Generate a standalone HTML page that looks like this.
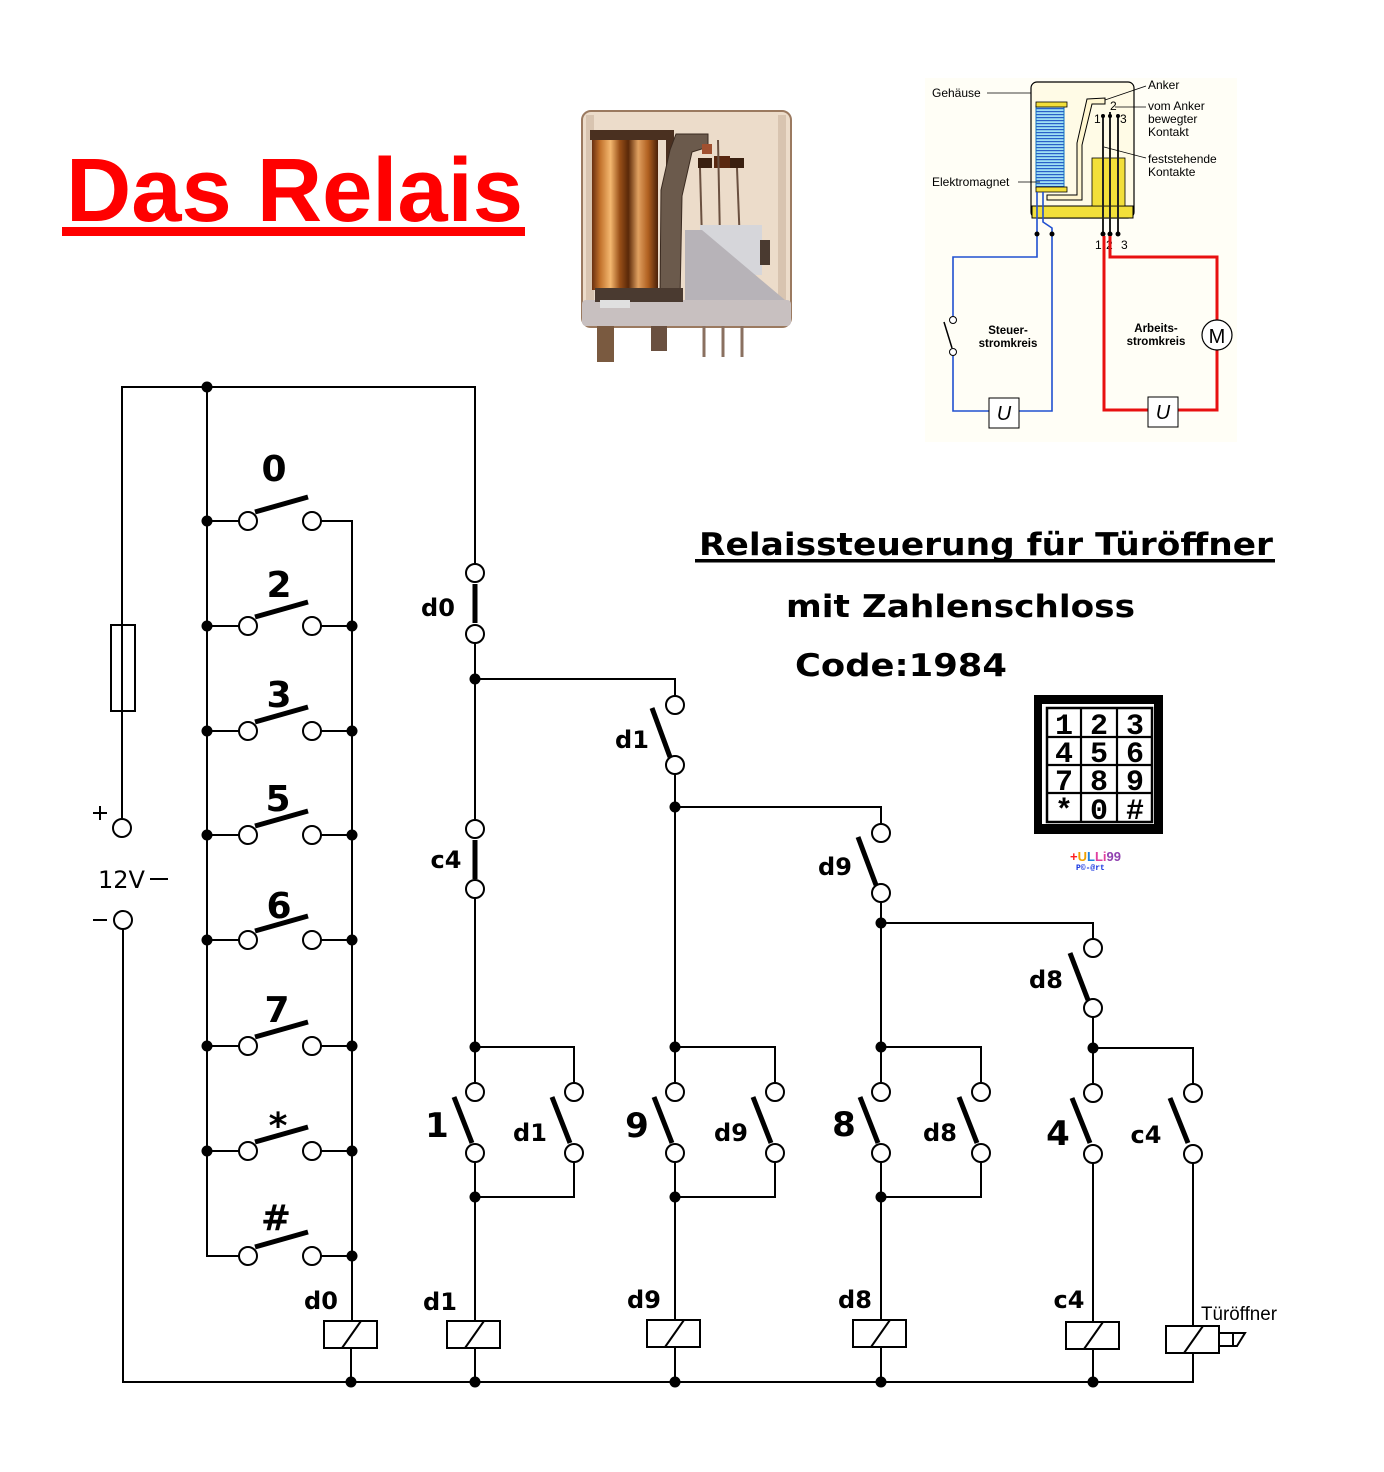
<!DOCTYPE html>
<html><head><meta charset="utf-8"><style>
html,body{margin:0;padding:0;background:#fff;}
svg{display:block;}
</style></head><body>
<svg xmlns="http://www.w3.org/2000/svg" width="1384" height="1472" viewBox="0 0 1384 1472">
<defs>
<linearGradient id="cu" x1="0" y1="0" x2="1" y2="0">
<stop offset="0" stop-color="#6a3010"/><stop offset="0.12" stop-color="#c0702a"/><stop offset="0.28" stop-color="#f4b870"/><stop offset="0.42" stop-color="#9a5018"/><stop offset="0.55" stop-color="#5a2808"/><stop offset="0.7" stop-color="#e0a060"/><stop offset="0.85" stop-color="#b06020"/><stop offset="1" stop-color="#4a2008"/>
</linearGradient>
<pattern id="coilp" width="4" height="3" patternUnits="userSpaceOnUse"><rect width="4" height="3" fill="#9fe0f4"/><rect y="0" width="4" height="1.2" fill="#2a60c8"/></pattern>
</defs>

<!-- Title -->
<text x="66" y="221" font-family="Liberation Sans, sans-serif" font-weight="bold" font-size="90" fill="#ff0000" textLength="457" lengthAdjust="spacingAndGlyphs">Das Relais</text>
<rect x="62" y="227" width="463" height="9" fill="#ff0000"/>

<!-- Relay photo -->
<g>
<rect x="582" y="111" width="209" height="216" rx="9" fill="#ecdcca" stroke="#9b7a60" stroke-width="2"/>
<rect x="586" y="115" width="8" height="205" fill="#d8c4b0"/>
<rect x="778" y="115" width="8" height="205" fill="#d8c4b0"/>
<rect x="592" y="140" width="66" height="150" fill="url(#cu)"/>
<rect x="590" y="130" width="84" height="10" fill="#4a3020"/>
<rect x="666" y="130" width="8" height="40" fill="#4a3020"/>
<polygon points="676,134 708,134 708,147 692,152 682,196 680,300 660,300 661,190 670,150" fill="#6b5a4c" stroke="#3a2a20" stroke-width="1"/>
<rect x="702" y="144" width="10" height="10" fill="#a05030"/>
<rect x="698" y="158" width="14" height="10" fill="#3a2010"/>
<rect x="714" y="156" width="16" height="12" fill="#5a2810"/>
<rect x="730" y="158" width="14" height="10" fill="#3a2010"/>
<line x1="700" y1="168" x2="702" y2="240" stroke="#6a5040" stroke-width="2"/>
<line x1="718" y1="140" x2="720" y2="240" stroke="#6a5040" stroke-width="2"/>
<line x1="737" y1="168" x2="740" y2="245" stroke="#6a5040" stroke-width="2"/>
<rect x="700" y="225" width="62" height="50" fill="#d6d6da"/>
<rect x="760" y="240" width="10" height="25" fill="#4a3a30"/>
<polygon points="685,230 702,230 785,300 785,322 685,322" fill="#b7b3b8"/>
<rect x="582" y="300" width="209" height="26" rx="4" fill="#c8c0c0"/>
<rect x="595" y="288" width="88" height="14" fill="#4a3a30"/>
<rect x="600" y="300" width="30" height="8" fill="#e0e0e0"/>
<rect x="597" y="326" width="17" height="36" fill="#7a5a40"/>
<rect x="651" y="326" width="16" height="25" fill="#6a5040"/>
<line x1="704" y1="326" x2="704" y2="357" stroke="#8a7060" stroke-width="3"/>
<line x1="723" y1="326" x2="723" y2="357" stroke="#8a7060" stroke-width="3"/>
<line x1="742" y1="326" x2="742" y2="357" stroke="#8a7060" stroke-width="3"/>
</g>

<!-- Relay schematic -->
<g font-family="Liberation Sans, sans-serif">
<rect x="925" y="78" width="312" height="364" fill="#fffef6"/>
<rect x="1031" y="82" width="103" height="136" rx="6" fill="#fffbe6" stroke="#000" stroke-width="1.2"/>
<rect x="1032" y="206" width="101" height="12" fill="#f2df3a" stroke="#000" stroke-width="1"/>
<rect x="1036" y="106" width="28" height="82" fill="url(#coilp)" stroke="#1070c0" stroke-width="1"/>
<rect x="1036" y="102" width="31" height="5" fill="#f2df3a" stroke="#000" stroke-width="0.8"/>
<rect x="1036" y="187" width="31" height="5" fill="#f2df3a" stroke="#000" stroke-width="0.8"/>
<rect x="1092" y="158" width="33" height="48" fill="#f2df3a" stroke="#000" stroke-width="0.8"/>
<polygon points="1087,99 1105,98 1105,104 1092,104 1082,145 1082,200 1047,200 1047,195 1077,195 1077,143" fill="#fff6d0" stroke="#000" stroke-width="1"/>
<line x1="1103" y1="116" x2="1103" y2="234" stroke="#222" stroke-width="2"/>
<line x1="1110" y1="112" x2="1110" y2="234" stroke="#222" stroke-width="2"/>
<line x1="1118" y1="116" x2="1118" y2="234" stroke="#222" stroke-width="2"/>
<circle cx="1103" cy="234" r="2.5"/><circle cx="1110" cy="234" r="2.5"/><circle cx="1118" cy="234" r="2.5"/>
<circle cx="1103" cy="116" r="2"/><circle cx="1110" cy="116" r="2"/><circle cx="1118" cy="116" r="2"/>
<text x="1094" y="123" font-size="12">1</text>
<text x="1110" y="110" font-size="12">2</text>
<text x="1120" y="123" font-size="12">3</text>
<text x="1095" y="249" font-size="12">1</text>
<text x="1106" y="249" font-size="12">2</text>
<text x="1121" y="249" font-size="12">3</text>
<g stroke="#000" stroke-width="0.8" fill="none">
<line x1="987" y1="93" x2="1031" y2="93"/>
<line x1="1146" y1="86" x2="1105" y2="100"/>
<line x1="1146" y1="107" x2="1115" y2="107"/>
<line x1="1146" y1="158" x2="1104" y2="147"/>
<line x1="1018" y1="182" x2="1040" y2="182"/>
</g>
<g font-size="12" fill="#000">
<text x="932" y="97">Gehäuse</text>
<text x="1148" y="89">Anker</text>
<text x="1148" y="110">vom Anker</text>
<text x="1148" y="123">bewegter</text>
<text x="1148" y="136">Kontakt</text>
<text x="1148" y="163">feststehende</text>
<text x="1148" y="176">Kontakte</text>
<text x="932" y="186">Elektromagnet</text>
</g>
<g font-size="11.5" font-weight="bold" text-anchor="middle">
<text x="1008" y="334">Steuer-</text>
<text x="1008" y="347">stromkreis</text>
<text x="1156" y="332">Arbeits-</text>
<text x="1156" y="345">stromkreis</text>
</g>
<g stroke="#2050d0" stroke-width="1.6" fill="none">
<polyline points="1037,192 1037,257 953,257 953,316"/>
<polyline points="953,356 953,411 989,411"/>
<polyline points="1019,411 1052,411 1052,228 1043,222 1043,192"/>
</g>
<circle cx="1037" cy="234" r="2.5"/><circle cx="1052" cy="234" r="2.5"/>
<circle cx="953" cy="320" r="3.5" fill="#fff" stroke="#000" stroke-width="1"/>
<circle cx="953" cy="352" r="3.5" fill="#fff" stroke="#000" stroke-width="1"/>
<line x1="944" y1="322" x2="952" y2="348" stroke="#000" stroke-width="1.5"/>
<rect x="989" y="398" width="30" height="30" fill="#fff" stroke="#000" stroke-width="1"/>
<text x="1004" y="420" font-size="20" font-style="italic" text-anchor="middle">U</text>
<g stroke="#e81010" stroke-width="3" fill="none">
<polyline points="1110,236 1110,257 1217,257 1217,320"/>
<polyline points="1217,350 1217,410 1178,410"/>
<polyline points="1148,410 1104,410 1104,236"/>
</g>
<circle cx="1217" cy="335" r="15" fill="#fff" stroke="#000" stroke-width="1.2"/>
<text x="1217" y="343" font-size="20" text-anchor="middle">M</text>
<rect x="1148" y="397" width="30" height="30" fill="#fff" stroke="#000" stroke-width="1"/>
<text x="1163" y="419" font-size="20" font-style="italic" text-anchor="middle">U</text>
</g>

<!-- Headings -->
<g font-family="DejaVu Sans, Liberation Sans, sans-serif" font-weight="bold" font-size="31" fill="#000">
<text x="699" y="555" textLength="574" lengthAdjust="spacingAndGlyphs">Relaissteuerung für Türöffner</text>
<rect x="695" y="559" width="580" height="3.5"/>
<text x="786" y="617" textLength="349" lengthAdjust="spacingAndGlyphs">mit Zahlenschloss</text>
<text x="795" y="676" textLength="212" lengthAdjust="spacingAndGlyphs">Code:1984</text>
</g>

<!-- Keypad -->
<g>
<rect x="1034" y="695" width="129" height="139" fill="#000"/>
<rect x="1042" y="704" width="112" height="120" fill="#fff"/>
<rect x="1047" y="708" width="105" height="114" fill="none" stroke="#000" stroke-width="2.5"/>
<g stroke="#000" stroke-width="2.2">
<line x1="1081" y1="708" x2="1081" y2="822"/>
<line x1="1117" y1="708" x2="1117" y2="822"/>
<line x1="1047" y1="737" x2="1152" y2="737"/>
<line x1="1047" y1="765" x2="1152" y2="765"/>
<line x1="1047" y1="793" x2="1152" y2="793"/>
</g>
<g font-family="Liberation Mono, monospace" font-weight="bold" font-size="30" text-anchor="middle">
<text x="1064" y="734">1</text><text x="1099" y="734">2</text><text x="1135" y="734">3</text>
<text x="1064" y="762">4</text><text x="1099" y="762">5</text><text x="1135" y="762">6</text>
<text x="1064" y="790">7</text><text x="1099" y="790">8</text><text x="1135" y="790">9</text>
<text x="1064" y="819">*</text><text x="1099" y="819">0</text><text x="1135" y="819">#</text>
</g>
<text x="1070" y="861" font-family="Liberation Sans, sans-serif" font-weight="bold" font-size="13"><tspan fill="#ff2020">+</tspan><tspan fill="#f0a000">U</tspan><tspan fill="#2080e0">L</tspan><tspan fill="#e040a0">Li</tspan><tspan fill="#9040b0">99</tspan></text>
<text x="1076" y="870" font-family="Liberation Mono, monospace" font-weight="bold" font-size="8" fill="#1030e0">P©-@rt</text>
</g>

<!-- Circuit -->
<g stroke="#000" stroke-width="2" fill="none">
<polyline points="122,819 122,387 475,387 475,564"/>
<rect x="111" y="625" width="24" height="86"/>
<polyline points="123,929 123,1382 1193,1382 1193,1353"/>
<line x1="150" y1="879" x2="168" y2="879"/>
<line x1="93" y1="813" x2="107" y2="813"/>
<line x1="100" y1="806" x2="100" y2="820"/>
<line x1="93" y1="920" x2="107" y2="920"/>
<polyline points="207,387 207,1256 239,1256"/>
<polyline points="321,521 352,521 352,1321"/>
<line x1="475" y1="643" x2="475" y2="820"/>
<line x1="475" y1="898" x2="475" y2="1083"/>
<polyline points="475,679 675,679 675,696"/>
<line x1="675" y1="774" x2="675" y2="1083"/>
<polyline points="675,807 881,807 881,824"/>
<line x1="881" y1="902" x2="881" y2="1083"/>
<polyline points="881,923 1093,923 1093,939"/>
<line x1="1093" y1="1017" x2="1093" y2="1083"/>
</g>

<!-- switch rows -->
<g stroke="#000" stroke-width="2" fill="#fff">
<line x1="207" y1="521" x2="239" y2="521"/>
<line x1="207" y1="626" x2="239" y2="626"/><line x1="321" y1="626" x2="352" y2="626"/>
<line x1="207" y1="731" x2="239" y2="731"/><line x1="321" y1="731" x2="352" y2="731"/>
<line x1="207" y1="835" x2="239" y2="835"/><line x1="321" y1="835" x2="352" y2="835"/>
<line x1="207" y1="940" x2="239" y2="940"/><line x1="321" y1="940" x2="352" y2="940"/>
<line x1="207" y1="1046" x2="239" y2="1046"/><line x1="321" y1="1046" x2="352" y2="1046"/>
<line x1="207" y1="1151" x2="239" y2="1151"/><line x1="321" y1="1151" x2="352" y2="1151"/>
<line x1="321" y1="1256" x2="352" y2="1256"/>
<circle cx="248" cy="521" r="9"/><circle cx="312" cy="521" r="9"/>
<circle cx="248" cy="626" r="9"/><circle cx="312" cy="626" r="9"/>
<circle cx="248" cy="731" r="9"/><circle cx="312" cy="731" r="9"/>
<circle cx="248" cy="835" r="9"/><circle cx="312" cy="835" r="9"/>
<circle cx="248" cy="940" r="9"/><circle cx="312" cy="940" r="9"/>
<circle cx="248" cy="1046" r="9"/><circle cx="312" cy="1046" r="9"/>
<circle cx="248" cy="1151" r="9"/><circle cx="312" cy="1151" r="9"/>
<circle cx="248" cy="1256" r="9"/><circle cx="312" cy="1256" r="9"/>
<circle cx="122" cy="828" r="9"/>
<circle cx="123" cy="920" r="9"/>
<circle cx="475" cy="573" r="9"/><circle cx="475" cy="634" r="9"/>
<circle cx="475" cy="829" r="9"/><circle cx="475" cy="889" r="9"/>
<circle cx="675" cy="705" r="9"/><circle cx="675" cy="765" r="9"/>
<circle cx="881" cy="833" r="9"/><circle cx="881" cy="893" r="9"/>
<circle cx="1093" cy="948" r="9"/><circle cx="1093" cy="1008" r="9"/>
</g>
<g stroke="#000" stroke-width="5" stroke-linecap="butt">
<line x1="255" y1="512" x2="308" y2="497"/>
<line x1="255" y1="617" x2="308" y2="602"/>
<line x1="255" y1="722" x2="308" y2="707"/>
<line x1="255" y1="826" x2="308" y2="811"/>
<line x1="255" y1="931" x2="308" y2="916"/>
<line x1="255" y1="1037" x2="308" y2="1022"/>
<line x1="255" y1="1142" x2="308" y2="1127"/>
<line x1="255" y1="1247" x2="308" y2="1232"/>
<line x1="475" y1="584" x2="475" y2="623"/>
<line x1="475" y1="840" x2="475" y2="879"/>
<line x1="652" y1="708" x2="670" y2="757"/>
<line x1="858" y1="837" x2="876" y2="885"/>
<line x1="1070" y1="953" x2="1088" y2="1000"/>
</g>

<!-- parallel pairs -->
<g stroke="#000" stroke-width="2" fill="none">
<polyline points="475,1083 475,1047 574,1047 574,1083"/>
<polyline points="475,1162 475,1321"/>
<polyline points="574,1162 574,1197 475,1197"/>
<polyline points="675,1083 675,1047 775,1047 775,1083"/>
<polyline points="675,1162 675,1320"/>
<polyline points="775,1162 775,1197 675,1197"/>
<polyline points="881,1083 881,1047 981,1047 981,1083"/>
<polyline points="881,1162 881,1320"/>
<polyline points="981,1162 981,1197 881,1197"/>
<polyline points="1093,1083 1093,1048 1193,1048 1193,1084"/>
<polyline points="1093,1163 1093,1322"/>
<polyline points="1193,1163 1193,1326"/>
<line x1="351" y1="1348" x2="351" y2="1382"/>
<line x1="475" y1="1348" x2="475" y2="1382"/>
<line x1="675" y1="1347" x2="675" y2="1382"/>
<line x1="881" y1="1347" x2="881" y2="1382"/>
<line x1="1093" y1="1348" x2="1093" y2="1382"/>
</g>
<g stroke="#000" stroke-width="2" fill="#fff">
<circle cx="475" cy="1092" r="9"/><circle cx="475" cy="1153" r="9"/>
<circle cx="574" cy="1092" r="9"/><circle cx="574" cy="1153" r="9"/>
<circle cx="675" cy="1092" r="9"/><circle cx="675" cy="1153" r="9"/>
<circle cx="775" cy="1092" r="9"/><circle cx="775" cy="1153" r="9"/>
<circle cx="881" cy="1092" r="9"/><circle cx="881" cy="1153" r="9"/>
<circle cx="981" cy="1092" r="9"/><circle cx="981" cy="1153" r="9"/>
<circle cx="1093" cy="1093" r="9"/><circle cx="1093" cy="1154" r="9"/>
<circle cx="1193" cy="1093" r="9"/><circle cx="1193" cy="1154" r="9"/>
<rect x="324" y="1321" width="53" height="27"/>
<rect x="447" y="1321" width="53" height="27"/>
<rect x="647" y="1320" width="53" height="27"/>
<rect x="853" y="1320" width="53" height="27"/>
<rect x="1066" y="1322" width="53" height="27"/>
<rect x="1166" y="1326" width="53" height="27"/>
<rect x="1219" y="1333" width="14" height="13"/>
<polygon points="1233,1333 1245,1333 1237,1346 1233,1346"/>
</g>
<g stroke="#000" stroke-width="2">
<line x1="342" y1="1348" x2="361" y2="1321"/>
<line x1="465" y1="1348" x2="484" y2="1321"/>
<line x1="665" y1="1347" x2="684" y2="1320"/>
<line x1="871" y1="1347" x2="890" y2="1320"/>
<line x1="1084" y1="1349" x2="1103" y2="1322"/>
<line x1="1184" y1="1353" x2="1203" y2="1326"/>
</g>
<g stroke="#000" stroke-width="5">
<line x1="454" y1="1097" x2="472" y2="1143"/>
<line x1="552" y1="1097" x2="570" y2="1143"/>
<line x1="654" y1="1097" x2="672" y2="1143"/>
<line x1="753" y1="1097" x2="771" y2="1143"/>
<line x1="860" y1="1097" x2="878" y2="1143"/>
<line x1="959" y1="1097" x2="977" y2="1143"/>
<line x1="1072" y1="1098" x2="1090" y2="1143"/>
<line x1="1170" y1="1098" x2="1188" y2="1143"/>
</g>

<!-- junction dots -->
<g fill="#000">
<circle cx="207" cy="387" r="5.5"/>
<circle cx="207" cy="521" r="5.5"/><circle cx="207" cy="626" r="5.5"/><circle cx="207" cy="731" r="5.5"/><circle cx="207" cy="835" r="5.5"/><circle cx="207" cy="940" r="5.5"/><circle cx="207" cy="1046" r="5.5"/><circle cx="207" cy="1151" r="5.5"/>
<circle cx="352" cy="626" r="5.5"/><circle cx="352" cy="731" r="5.5"/><circle cx="352" cy="835" r="5.5"/><circle cx="352" cy="940" r="5.5"/><circle cx="352" cy="1046" r="5.5"/><circle cx="352" cy="1151" r="5.5"/><circle cx="352" cy="1256" r="5.5"/>
<circle cx="475" cy="679" r="5.5"/><circle cx="675" cy="807" r="5.5"/><circle cx="881" cy="923" r="5.5"/>
<circle cx="475" cy="1047" r="5.5"/><circle cx="475" cy="1197" r="5.5"/>
<circle cx="675" cy="1047" r="5.5"/><circle cx="675" cy="1197" r="5.5"/>
<circle cx="881" cy="1047" r="5.5"/><circle cx="881" cy="1197" r="5.5"/>
<circle cx="1093" cy="1048" r="5.5"/>
<circle cx="351" cy="1382" r="5.5"/><circle cx="475" cy="1382" r="5.5"/><circle cx="675" cy="1382" r="5.5"/><circle cx="881" cy="1382" r="5.5"/><circle cx="1093" cy="1382" r="5.5"/>
</g>

<!-- labels -->
<g font-family="DejaVu Sans, Liberation Sans, sans-serif" font-weight="bold" fill="#000" text-anchor="middle">
<g font-size="36">
<text x="274" y="481">0</text>
<text x="279" y="597">2</text>
<text x="279" y="707">3</text>
<text x="278" y="811">5</text>
<text x="279" y="918">6</text>
<text x="277" y="1022">7</text>
<text x="278" y="1138">*</text>
<text x="276" y="1230">#</text>
</g>
<g font-size="34">
<text x="437" y="1137">1</text>
<text x="637" y="1137">9</text>
<text x="844" y="1136">8</text>
<text x="1058" y="1145">4</text>
</g>
<g font-size="24">
<text x="438" y="616">d0</text>
<text x="446" y="868">c4</text>
<text x="632" y="748">d1</text>
<text x="835" y="875">d9</text>
<text x="1046" y="988">d8</text>
<text x="530" y="1141">d1</text>
<text x="731" y="1141">d9</text>
<text x="940" y="1141">d8</text>
<text x="1146" y="1143">c4</text>
<text x="321" y="1309">d0</text>
<text x="440" y="1310">d1</text>
<text x="644" y="1308">d9</text>
<text x="855" y="1308">d8</text>
<text x="1069" y="1308">c4</text>
</g>
</g>
<text x="98" y="888" font-family="DejaVu Sans, Liberation Sans, sans-serif" font-size="24" textLength="47" lengthAdjust="spacingAndGlyphs">12V</text>
<text x="1201" y="1320" font-family="Liberation Sans, sans-serif" font-size="19" textLength="76" lengthAdjust="spacingAndGlyphs">Türöffner</text>
</svg>
</body></html>
